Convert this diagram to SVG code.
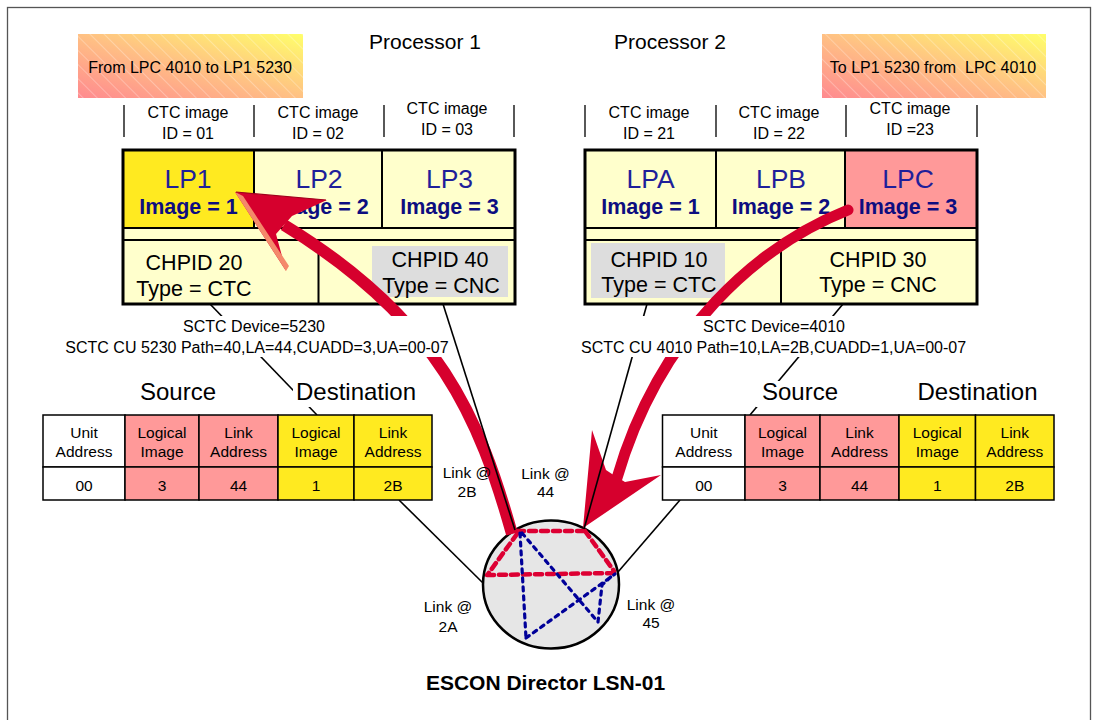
<svg xmlns="http://www.w3.org/2000/svg" width="1093" height="720" viewBox="0 0 1093 720">
<defs>
<linearGradient id="grad" x1="0" y1="1" x2="1" y2="0">
<stop offset="0" stop-color="#ff8a8f"/>
<stop offset="0.5" stop-color="#ffc184"/>
<stop offset="1" stop-color="#ffff6a"/>
</linearGradient>
<pattern id="hatch" patternUnits="userSpaceOnUse" width="10" height="10" patternTransform="rotate(45)">
<line x1="0" y1="0.5" x2="10" y2="0.5" stroke="#ffffff" stroke-opacity="0.35" stroke-width="0.8"/>
</pattern>
<style>
text{font-family:"Liberation Sans",Arial,sans-serif;fill:#000;text-anchor:middle}
.s16{font-size:16px}
.s15{font-size:15.5px}
.s21{font-size:21px}
.s24{font-size:24px}
.lp{font-size:26.5px;fill:#1f1f9a}
.img{font-size:21.5px;font-weight:bold;fill:#0d0d80}
.ch{font-size:21.5px}
.thin{stroke:#000;stroke-width:1.3;fill:none}
.cell{stroke:#000;stroke-width:1.5}
.div{stroke:#000;stroke-width:2;fill:none}
.outer{stroke:#000;stroke-width:3;fill:none}
.conn{stroke:#000;stroke-width:1.6;fill:none}
.red{fill:#d6002d}
.pink{fill:#ff9999}
.yel{fill:#ffea20}
.pale{fill:#ffffcc}
.grey{fill:#dddddd}
.wht{fill:#ffffff}
.rdash{stroke:#dd0033;stroke-width:4.5;stroke-dasharray:7 5;stroke-linecap:round;fill:none}
.bdash{stroke:#000099;stroke-width:3.2;stroke-dasharray:4 5;stroke-linecap:round;fill:none}
</style>
</defs>

<rect x="7.5" y="7.5" width="1083" height="730" fill="#ffffff" stroke="#555" stroke-width="1.3"/>

<g id="label-left">
<rect x="78" y="34" width="225" height="64" fill="url(#grad)"/>
<rect x="78" y="34" width="225" height="64" fill="url(#hatch)"/>
<text class="s16" x="190" y="73">From LPC 4010 to LP1 5230</text>
</g>
<g id="label-right">
<rect x="822" y="34" width="224" height="64" fill="url(#grad)"/>
<rect x="822" y="34" width="224" height="64" fill="url(#hatch)"/>
<text class="s16" x="933" y="73" style="white-space:pre">To LP1 5230 from  LPC 4010</text>
</g>

<g id="titles">
<text class="s21" x="425" y="49">Processor 1</text>
<text class="s21" x="670" y="49">Processor 2</text>
</g>

<g id="ctc-ids-1">
<path class="thin" d="M124,105V137 M254,105V137 M384,105V137 M514,105V137"/>
<text class="s16" x="188" y="118">CTC image</text>
<text class="s16" x="188" y="139">ID = 01</text>
<text class="s16" x="318" y="118">CTC image</text>
<text class="s16" x="318" y="139">ID = 02</text>
<text class="s16" x="447" y="114">CTC image</text>
<text class="s16" x="447" y="135">ID = 03</text>
</g>
<g id="ctc-ids-2">
<path class="thin" d="M585,105V137 M716,105V137 M846,105V137 M977,105V137"/>
<text class="s16" x="649" y="118">CTC image</text>
<text class="s16" x="649" y="139">ID = 21</text>
<text class="s16" x="779" y="118">CTC image</text>
<text class="s16" x="779" y="139">ID = 22</text>
<text class="s16" x="910" y="114">CTC image</text>
<text class="s16" x="910" y="135">ID =23</text>
</g>

<g id="processor1">
<rect class="pale" x="123" y="150" width="392" height="154"/>
<rect class="yel" x="123" y="150" width="131" height="78"/>
<rect class="grey" x="372" y="246" width="136" height="51"/>
<path class="div" d="M254,150V228 M382,150V228 M123,228H515 M123,240H515 M318.5,240V304"/>
<rect class="outer" x="123" y="150" width="392" height="154"/>
<text class="lp" x="188" y="188">LP1</text>
<text class="img" x="188.5" y="214">Image = 1</text>
<text class="lp" x="319" y="188">LP2</text>
<text class="img" x="319.5" y="214">Image = 2</text>
<text class="lp" x="449.5" y="188">LP3</text>
<text class="img" x="449.5" y="214">Image = 3</text>
<text class="ch" x="194" y="270">CHPID 20</text>
<text class="ch" x="194" y="296">Type = CTC</text>
<text class="ch" x="440" y="267">CHPID 40</text>
<text class="ch" x="441" y="293">Type = CNC</text>
</g>

<g id="processor2">
<rect class="pale" x="585" y="150" width="392" height="154"/>
<rect class="pink" x="845" y="150" width="132" height="78"/>
<rect class="grey" x="591" y="243" width="134" height="55"/>
<path class="div" d="M716,150V228 M845,150V228 M585,228H977 M585,240H977 M781,240V304"/>
<rect class="outer" x="585" y="150" width="392" height="154"/>
<text class="lp" x="650.5" y="188">LPA</text>
<text class="img" x="650.5" y="214">Image = 1</text>
<text class="lp" x="781" y="188">LPB</text>
<text class="img" x="781" y="214">Image = 2</text>
<text class="lp" x="908" y="188">LPC</text>
<text class="img" x="908" y="214">Image = 3</text>
<text class="ch" x="659" y="267">CHPID 10</text>
<text class="ch" x="659" y="292">Type = CTC</text>
<text class="ch" x="878" y="267">CHPID 30</text>
<text class="ch" x="878" y="292">Type = CNC</text>
</g>

<g id="escon-director">
<ellipse cx="551" cy="584.5" rx="68" ry="64" fill="#e6e6e6" stroke="#000" stroke-width="2.5"/>
<path class="rdash" d="M517,531 L585,531 M517,534 L488,574 M487,575 L616,573 M585,531 L614,571"/>
<path class="bdash" d="M520,533 L526,638 M526,638 L615,574 M522,533 L598,622 M598,622 L602,585 L614,574"/>
</g>

<g id="flow-arrows">
<path d="M512,534 C480,420 440,320 284,225" fill="none" stroke="#d6002d" stroke-width="12"/>
<polygon class="red" points="235,192 327,200 292,216 276,234 286,271"/>
<polygon points="235,192 286,271 289,266 243,196" fill="#f4896b"/>
<line x1="236" y1="192" x2="326" y2="200" stroke="#a0001c" stroke-width="1.2"/>
<path d="M848,210 C760,245 660,330 617,478" fill="none" stroke="#d6002d" stroke-width="11" stroke-linecap="round"/>
<polygon class="red" points="583,528 592,430 606,470 612,474 625,482 661,475"/>
</g>

<g id="connectors">
<line class="conn" x1="210" y1="304" x2="317" y2="415"/>
<line class="conn" x1="443" y1="304" x2="515" y2="530"/>
<line class="conn" x1="647" y1="304" x2="584" y2="529"/>
<line class="conn" x1="843" y1="304" x2="750" y2="415"/>
<line class="conn" x1="399" y1="500" x2="483" y2="583"/>
<line class="conn" x1="680" y1="500" x2="618" y2="572"/>
</g>

<g id="sctc-left">
<rect class="wht" x="60" y="316" width="386" height="41"/>
<text class="s16" x="254" y="332">SCTC Device=5230</text>
<text class="s16" x="257" y="353">SCTC CU 5230 Path=40,LA=44,CUADD=3,UA=00-07</text>
</g>
<g id="sctc-right">
<rect class="wht" x="578" y="316" width="392" height="41"/>
<text class="s16" x="774" y="332">SCTC Device=4010</text>
<text class="s16" x="773.5" y="353">SCTC CU 4010 Path=10,LA=2B,CUADD=1,UA=00-07</text>
</g>

<g id="table-left">
<rect class="wht" x="293" y="381" width="126" height="26"/>
<text class="s24" x="178" y="400">Source</text>
<text class="s24" x="356" y="400">Destination</text>
<rect class="cell wht" x="43" y="415" width="82" height="52"/>
<rect class="cell pink" x="125" y="415" width="74" height="52"/>
<rect class="cell pink" x="199" y="415" width="79" height="52"/>
<rect class="cell yel" x="278" y="415" width="76" height="52"/>
<rect class="cell yel" x="354" y="415" width="78" height="52"/>
<rect class="cell wht" x="43" y="467" width="82" height="33"/>
<rect class="cell pink" x="125" y="467" width="74" height="33"/>
<rect class="cell pink" x="199" y="467" width="79" height="33"/>
<rect class="cell yel" x="278" y="467" width="76" height="33"/>
<rect class="cell yel" x="354" y="467" width="78" height="33"/>
<text class="s15" x="84" y="438">Unit</text><text class="s15" x="84" y="457">Address</text>
<text class="s15" x="162" y="438">Logical</text><text class="s15" x="162" y="457">Image</text>
<text class="s15" x="238.5" y="438">Link</text><text class="s15" x="238.5" y="457">Address</text>
<text class="s15" x="316" y="438">Logical</text><text class="s15" x="316" y="457">Image</text>
<text class="s15" x="393" y="438">Link</text><text class="s15" x="393" y="457">Address</text>
<text class="s15" x="84" y="491">00</text>
<text class="s15" x="162" y="491">3</text>
<text class="s15" x="238.5" y="491">44</text>
<text class="s15" x="316" y="491">1</text>
<text class="s15" x="393" y="491">2B</text>
</g>

<g id="table-right">
<rect class="wht" x="756" y="381" width="88" height="26"/>
<text class="s24" x="800" y="400">Source</text>
<text class="s24" x="977.5" y="400">Destination</text>
<rect class="cell wht" x="662.5" y="415" width="82.5" height="52"/>
<rect class="cell pink" x="745" y="415" width="75" height="52"/>
<rect class="cell pink" x="820" y="415" width="79" height="52"/>
<rect class="cell yel" x="899" y="415" width="76.5" height="52"/>
<rect class="cell yel" x="975.5" y="415" width="78.5" height="52"/>
<rect class="cell wht" x="662.5" y="467" width="82.5" height="33"/>
<rect class="cell pink" x="745" y="467" width="75" height="33"/>
<rect class="cell pink" x="820" y="467" width="79" height="33"/>
<rect class="cell yel" x="899" y="467" width="76.5" height="33"/>
<rect class="cell yel" x="975.5" y="467" width="78.5" height="33"/>
<text class="s15" x="703.75" y="438">Unit</text><text class="s15" x="703.75" y="457">Address</text>
<text class="s15" x="782.5" y="438">Logical</text><text class="s15" x="782.5" y="457">Image</text>
<text class="s15" x="859.5" y="438">Link</text><text class="s15" x="859.5" y="457">Address</text>
<text class="s15" x="937.25" y="438">Logical</text><text class="s15" x="937.25" y="457">Image</text>
<text class="s15" x="1014.75" y="438">Link</text><text class="s15" x="1014.75" y="457">Address</text>
<text class="s15" x="703.75" y="491">00</text>
<text class="s15" x="782.5" y="491">3</text>
<text class="s15" x="859.5" y="491">44</text>
<text class="s15" x="937.25" y="491">1</text>
<text class="s15" x="1014.75" y="491">2B</text>
</g>

<g id="link-labels">
<text class="s15" x="467" y="478">Link @</text><text class="s15" x="467" y="497">2B</text>
<text class="s15" x="545.5" y="479">Link @</text><text class="s15" x="545.5" y="497">44</text>
<text class="s15" x="448" y="612">Link @</text><text class="s15" x="448" y="632">2A</text>
<text class="s15" x="651" y="610">Link @</text><text class="s15" x="651" y="628">45</text>
</g>

<g id="caption">
<text x="545.5" y="690" style="font-size:21px;font-weight:bold">ESCON Director LSN-01</text>
</g>
</svg>
